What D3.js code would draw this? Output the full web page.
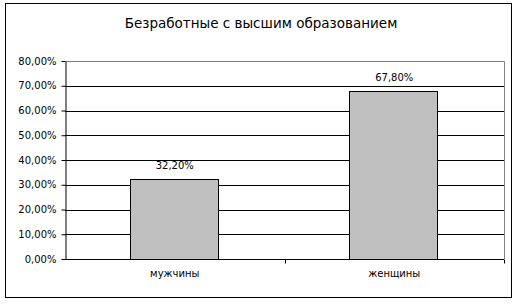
<!DOCTYPE html>
<html>
<head>
<meta charset="utf-8">
<script src="https://cdn.jsdelivr.net/npm/d3@7"></script>
<style>
  body { margin: 0; background: #fff; }
  text { font-family: "DejaVu Sans", sans-serif; fill: #000; }
</style>
</head>
<body>
<div id="chart"></div>
<script>
// Data
const categories = ["мужчины", "женщины"];
const values = [32.2, 67.8];
const yTicks = [0, 10, 20, 30, 40, 50, 60, 70, 80];
const title = "Безработные с высшим образованием";

const W = 521, H = 304;
const margin = { top: 61, right: 17, bottom: 45, left: 65 },
      width = W - margin.left - margin.right,
      height = H - margin.top - margin.bottom;

const fmt = v => v.toFixed(2).replace(".", ",") + "%";

const svg = d3.select("#chart").append("svg")
    .attr("width", W)
    .attr("height", H);

// outer frame
svg.append("rect")
    .attr("x", 5.5).attr("y", 3.5)
    .attr("width", 506).attr("height", 294)
    .attr("fill", "#fff")
    .attr("stroke", "#000");

svg.append("text")
    .attr("x", 261)
    .attr("y", 28)
    .attr("text-anchor", "middle")
    .style("font-size", "13.5px")
    .text(title);

const g = svg.append("g")
    .attr("transform", `translate(${margin.left},${margin.top})`);

const x = d3.scaleBand().domain(categories).range([0, width]).paddingInner(0).paddingOuter(0);
const y = d3.scaleLinear().domain([0, 80]).range([height, 0]);

// plot border (top and right, gray)
g.append("path")
    .attr("d", `M0.5,0.5H${width + 0.5}V${height}`)
    .attr("fill", "none")
    .attr("stroke", "#808080");

// gridlines
g.selectAll(".grid")
    .data(yTicks.filter(d => d > 0 && d < 80))
    .enter().append("line")
    .attr("x1", 0).attr("x2", width)
    .attr("y1", d => Math.round(y(d)) + 0.5)
    .attr("y2", d => Math.round(y(d)) + 0.5)
    .attr("stroke", "#000");

// bars
const barW = x.bandwidth() * 0.4;
g.selectAll(".bar")
    .data(values)
    .enter().append("rect")
    .attr("x", (d, i) => Math.round(x(categories[i]) + (x.bandwidth() - barW) / 2) - 0.5)
    .attr("y", d => Math.round(y(d)) + 0.5)
    .attr("width", Math.round(barW))
    .attr("height", d => Math.round(height - y(d)))
    .attr("fill", "#c0c0c0")
    .attr("stroke", "#000");

// value labels
g.selectAll(".lbl")
    .data(values)
    .enter().append("text")
    .attr("x", (d, i) => x(categories[i]) + x.bandwidth() / 2)
    .attr("y", d => y(d) - 10)
    .attr("text-anchor", "middle")
    .style("font-size", "10px")
    .text(d => fmt(d));

// y axis
const yAxis = g.append("g")
    .attr("transform", "translate(0.5,0)")
    .call(d3.axisLeft(y).tickValues(yTicks).tickSize(4).tickSizeOuter(0).tickFormat(fmt));
yAxis.selectAll("line, path").attr("stroke", "#000");
yAxis.selectAll("text")
    .attr("x", -9)
    .style("font-size", "10px")
    .style("font-family", "DejaVu Sans, sans-serif");

// x axis
const xAxis = g.append("g")
    .attr("transform", `translate(0,${height + 0.5})`);
xAxis.append("line")
    .attr("x1", 0).attr("x2", width)
    .attr("stroke", "#000");
xAxis.selectAll(".tk")
    .data(categories)
    .enter().append("line")
    .attr("x1", d => Math.round(x(d) + x.bandwidth()) + 0.5)
    .attr("x2", d => Math.round(x(d) + x.bandwidth()) + 0.5)
    .attr("y1", 0).attr("y2", 4)
    .attr("stroke", "#000");
xAxis.selectAll(".cl")
    .data(categories)
    .enter().append("text")
    .attr("x", d => x(d) + x.bandwidth() / 2)
    .attr("y", 17)
    .attr("text-anchor", "middle")
    .style("font-size", "10px")
    .text(d => d);
</script>
</body>
</html>
